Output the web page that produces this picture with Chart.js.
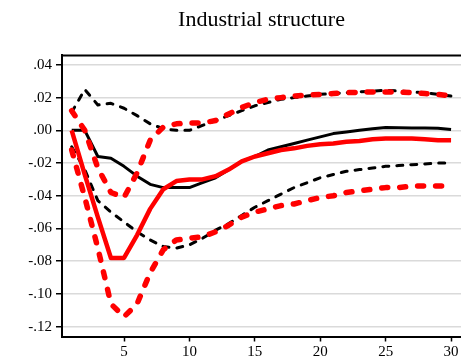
<!DOCTYPE html>
<html>
<head>
<meta charset="utf-8">
<script src="https://cdn.jsdelivr.net/npm/chart.js@4"></script>
<style>
  html, body { margin: 0; padding: 0; background: #fff; }
  #wrap { width: 461px; height: 361px; }
</style>
</head>
<body>
<div id="wrap"><canvas id="irf"></canvas></div>
<script>
// periods after the shock
const steps = [1, 2, 3, 4, 5, 6, 7, 8, 9, 10, 11, 12, 13, 14, 15, 16, 17, 18, 19, 20, 21, 22, 23, 24, 25, 26, 27, 28, 29, 30];

// black: response with its bands
const blackMid = [0.000, 0.000, -0.016, -0.017, -0.022, -0.028, -0.033, -0.035, -0.035, -0.035, -0.032, -0.029, -0.024, -0.019, -0.016, -0.012, -0.010, -0.008, -0.006, -0.004, -0.002, -0.001, 0.000, 0.001, 0.0017, 0.0016, 0.0015, 0.0015, 0.0013, 0.0005];
const blackUpper = [0.011, 0.025, 0.0155, 0.0165, 0.0135, 0.009, 0.004, 0.001, 0.000, 0.000, 0.003, 0.006, 0.009, 0.012, 0.015, 0.017, 0.019, 0.020, 0.021, 0.022, 0.0225, 0.023, 0.0235, 0.024, 0.0245, 0.024, 0.0235, 0.023, 0.022, 0.021];
const blackLower = [-0.010, -0.024, -0.043, -0.050, -0.056, -0.062, -0.067, -0.071, -0.072, -0.070, -0.066, -0.061, -0.057, -0.052, -0.047, -0.043, -0.039, -0.035, -0.032, -0.029, -0.027, -0.025, -0.024, -0.023, -0.022, -0.0215, -0.021, -0.0205, -0.020, -0.020];

// red: response with its bands
const redMid = [0.000, -0.027, -0.053, -0.078, -0.078, -0.064, -0.048, -0.036, -0.031, -0.030, -0.030, -0.028, -0.024, -0.019, -0.016, -0.014, -0.012, -0.011, -0.0095, -0.0085, -0.008, -0.007, -0.0065, -0.0055, -0.005, -0.005, -0.005, -0.0055, -0.006, -0.006];
const redUpper = [0.012, 0.000, -0.023, -0.038, -0.041, -0.026, -0.006, 0.002, 0.004, 0.0045, 0.0045, 0.006, 0.010, 0.014, 0.017, 0.019, 0.020, 0.021, 0.0215, 0.022, 0.0225, 0.023, 0.0233, 0.0235, 0.0235, 0.0235, 0.023, 0.0225, 0.022, 0.021];
const redLower = [-0.012, -0.041, -0.072, -0.106, -0.114, -0.106, -0.087, -0.073, -0.067, -0.066, -0.065, -0.062, -0.058, -0.053, -0.050, -0.048, -0.046, -0.045, -0.043, -0.041, -0.040, -0.038, -0.037, -0.036, -0.035, -0.035, -0.034, -0.034, -0.034, -0.034];

// tick labels
const yTicks = [-0.12, -0.10, -0.08, -0.06, -0.04, -0.02, 0.00, 0.02, 0.04];
const xTicks = [5, 10, 15, 20, 25, 30];

const pts = vals => steps.map((s, i) => ({ x: s, y: vals[i] }));

const serif = "'Liberation Serif', 'DejaVu Serif', serif";

function line(vals, color, width, dash, order) {
  return {
    data: pts(vals),
    borderColor: color,
    borderWidth: width,
    borderDash: dash,
    borderCapStyle: dash.length ? "round" : "butt",
    borderJoinStyle: "round",
    pointRadius: 0,
    tension: 0,
    fill: false,
    order: order,
  };
}

// top frame line
const topFrame = {
  id: "topFrame",
  afterDraw(chart) {
    const { ctx, chartArea } = chart;
    ctx.save();
    ctx.strokeStyle = "#000";
    ctx.lineWidth = 2;
    ctx.beginPath();
    ctx.moveTo(chartArea.left - 1, chartArea.top);
    ctx.lineTo(chartArea.right, chartArea.top);
    ctx.stroke();
    ctx.restore();
  },
};

const config = {
  type: "line",
  data: {
    datasets: [
      line(redMid, "#ff0000", 4.5, [], 1),
      line(redUpper, "#ff0000", 5.5, [6, 12], 2),
      line(redLower, "#ff0000", 5.5, [6, 12], 2),
      line(blackMid, "#000000", 3, [], 3),
      line(blackUpper, "#000000", 3, [6, 8], 4),
      line(blackLower, "#000000", 3, [6, 8], 4),
    ],
  },
  options: {
    responsive: true,
    maintainAspectRatio: false,
    animation: false,
    layout: { padding: { left: 0, right: 0, top: 0, bottom: 0 } },
    plugins: {
      legend: { display: false },
      tooltip: { enabled: false },
      title: {
        display: true,
        text: "Industrial structure",
        fullSize: false,
        color: "#000",
        font: { family: serif, size: 22, weight: "normal" },
        padding: { top: 7, bottom: 22 },
      },
    },
    scales: {
      x: {
        type: "linear",
        min: 0.26,
        max: 30.76,
        afterBuildTicks: scale => { scale.ticks = xTicks.map(v => ({ value: v })); },
        afterFit: scale => { scale.height = 24.5; },
        border: { display: true, color: "#000", width: 2 },
        grid: { display: true, drawOnChartArea: false, tickColor: "#000", tickLength: 5, tickWidth: 1.5 },
        ticks: {
          color: "#000",
          font: { family: serif, size: 15 },
          padding: 2,
          maxRotation: 0,
          autoSkip: false,
        },
      },
      y: {
        type: "linear",
        min: -0.126,
        max: 0.0458,
        afterBuildTicks: scale => { scale.ticks = yTicks.map(v => ({ value: v })); },
        afterFit: scale => { scale.width = 62; },
        border: { display: true, color: "#000", width: 2 },
        grid: { color: "#dadada", lineWidth: 1.5, tickColor: "#000", tickLength: 6, tickWidth: 1.5 },
        ticks: {
          color: "#000",
          font: { family: serif, size: 15 },
          padding: 4,
          autoSkip: false,
          callback: v => {
            if (Math.abs(v) < 1e-9) return ".00";
            const s = Math.abs(v).toFixed(2).replace(/^0/, "");
            return (v < 0 ? "-" : "") + s;
          },
        },
      },
    },
  },
  plugins: [topFrame],
};

new Chart(document.getElementById("irf").getContext("2d"), config);
</script>
</body>
</html>
